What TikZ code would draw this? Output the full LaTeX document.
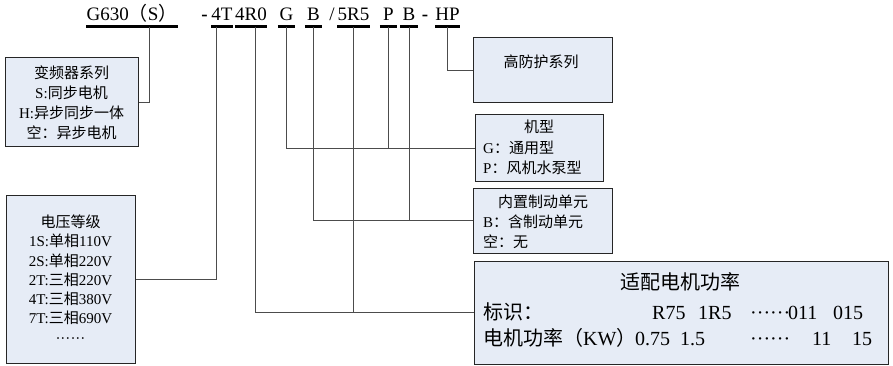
\documentclass[tikz,border=0pt]{standalone}
\usepackage{fontspec}
\setmainfont{Liberation Serif}
\newfontfamily\cjk{Noto Sans CJK SC}
\newcommand\zh[1]{{\cjk #1}}
\newcommand\etcdots[1]{\makebox[#1][s]{·\hfil·\hfil·\hfil·\hfil·\hfil·}}
\definecolor{boxfill}{RGB}{230,236,246}
\tikzset{
    codetext/.style={font=\fontsize{19}{19}\selectfont, anchor=base, text depth=0pt, inner xsep=0pt, inner ysep=5.5pt, minimum width=17pt},
    codemark/.style={font=\fontsize{19}{19}\selectfont, anchor=base, inner sep=0pt},
    codeline/.style={line width=2.6pt},
    infobox/.style={draw=black!85, fill=boxfill, line width=1pt, inner sep=0pt},
    infotext/.style={font=\fontsize{15}{20}\selectfont, inner sep=0pt},
    powertext/.style={font=\fontsize{20}{20}\selectfont, inner sep=0pt, anchor=base west},
    wire/.style={draw=black!70, line width=0.8pt},
}
\begin{document}
\begin{tikzpicture}[x=1pt, y=-1pt]
    \useasboundingbox (0,0) rectangle (893,366);

    \node[codetext] (cseries) at (132,21) {G630\zh{（}S\zh{）}};
    \node[codemark] (dasha) at (204.5,21) {\textbf{-}};
    \node[codetext] (c4T) at (222,21) {4T};
    \node[codetext] (c4R0) at (251,21) {4R0};
    \node[codetext] (cG) at (286.5,21) {G};
    \node[codetext] (cB) at (313.5,21) {B};
    \node[codemark] (slash) at (332,21) {/};
    \node[codetext] (c5R5) at (353.5,21) {5R5};
    \node[codetext] (cP) at (388.5,21) {P};
    \node[codetext] (cB2) at (409,21) {B};
    \node[codemark] (dashb) at (425,21) {\textbf{-}};
    \node[codetext] (cHP) at (447.5,21) {HP};
    \foreach \c in {cseries,c4T,c4R0,cG,cB,c5R5,cP,cB2,cHP}
        \draw[codeline] (\c.south west) -- (\c.south east);

    \node[infobox, infotext, align=center, minimum width=133pt, minimum height=89pt] (series) at (71.5,102.5)
        {\zh{变频器系列}\\S:\zh{同步电机}\\H:\zh{异步同步一体}\\\zh{空：异步电机}};
    \node[infobox, infotext, align=center, font=\fontsize{15}{19.3}\selectfont, minimum width=129pt, minimum height=168pt] (volt) at (70.5,279)
        {\zh{电压等级}\\1S:\zh{单相}110V\\2S:\zh{单相}220V\\2T:\zh{三相}220V\\4T:\zh{三相}380V\\7T:\zh{三相}690V\\\etcdots{2em}};

    \node[infobox, minimum width=139pt, minimum height=65pt] (hp) at (542.5,70.5) {};
    \node[infotext] (hphead) at (541,62) {\zh{高防护系列}};

    \node[infobox, minimum width=128pt, minimum height=66pt] (mtype) at (539,148) {};
    \node[infotext] (mtypehead) at (539,127) {\zh{机型}};
    \node[infotext, anchor=west] (mtypeg) at (483,148) {G\zh{：通用型}};
    \node[infotext, anchor=west] (mtypep) at (483,168) {P\zh{：风机水泵型}};

    \node[infobox, minimum width=139pt, minimum height=65pt] (brake) at (542.5,220.5) {};
    \node[infotext] (brakehead) at (543,202) {\zh{内置制动单元}};
    \node[infotext, anchor=west] (brakeb) at (483,222) {B\zh{：含制动单元}};
    \node[infotext, anchor=west] (brakenone) at (483,242) {\zh{空：无}};

    \node[infobox, minimum width=414pt, minimum height=103pt] (power) at (681,312.5) {};
    \node[infotext, font=\fontsize{20}{20}\selectfont] (powerhead) at (680,282) {\zh{适配电机功率}};
    \node[powertext] (marklabel) at (483,319) {\zh{标识：}};
    \node[powertext] (kwlabel) at (483,345) {\zh{电机功率（}KW\zh{）}};
    \foreach \x/\t [count=\i] in {652/R75, 698/1R5, 788/011, 833/015}
        \node[powertext] (mark\i) at (\x,319) {\t};
    \foreach \x/\t [count=\i] in {635/0.75, 680/1.5, 812/11, 852/15}
        \node[powertext] (kw\i) at (\x,345) {\t};
    \node[powertext] (markdots) at (750,319) {\etcdots{1.6em}};
    \node[powertext] (kwdots) at (750,345) {\etcdots{1.6em}};

    \draw[wire] ([xshift=17pt]cseries.south) |- (series.east);
    \draw[wire] ([xshift=-6pt]c4T.south) |- (volt.east);
    \draw[wire] ([xshift=4pt]c4R0.south) |- (power.west);
    \draw[wire] (c5R5.south) -- (c5R5.south |- power.west);
    \draw[wire] (cG.south) |- (mtype.west);
    \draw[wire] (cP.south) -- (cP.south |- mtype.west);
    \draw[wire] (cB.south) |- (brake.west);
    \draw[wire] (cB2.south) -- (cB2.south |- brake.west);
    \draw[wire] (cHP.south) |- (hp.west);
\end{tikzpicture}
\end{document}
